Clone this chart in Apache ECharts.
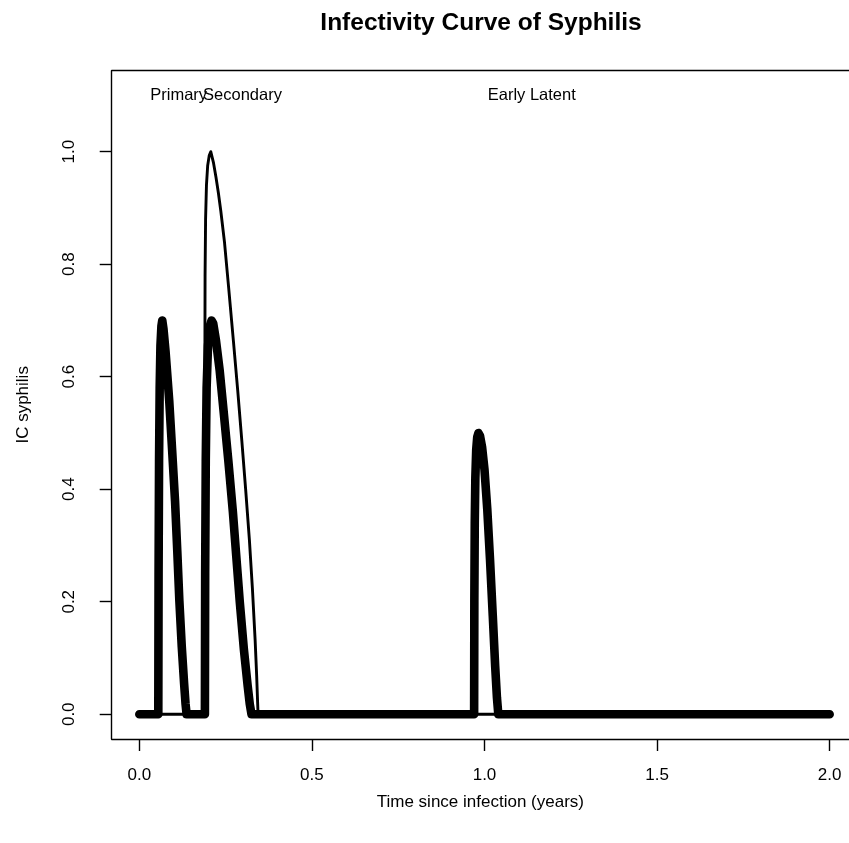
<!DOCTYPE html>
<html>
<head>
<meta charset="utf-8">
<title>Infectivity Curve of Syphilis</title>
<script src="https://cdn.jsdelivr.net/npm/echarts@6/dist/echarts.min.js"></script>
<style>
  html, body { margin: 0; padding: 0; background: #fff; }
  #chart { width: 849px; height: 843px; }
</style>
</head>
<body>
<div id="chart"></div>
<script>
// Time since infection (years) and infectivity for the weighted curve (thick line)
const timeWeighted = [
  0, 0.055, 0.0558, 0.0572, 0.0590, 0.0612, 0.0640, 0.0665, 0.070, 0.076, 0.0867, 0.095, 0.1035, 0.110, 0.116, 0.123, 0.1297, 0.134, 0.137,
  0.190, 0.1908, 0.1925, 0.195, 0.199, 0.204, 0.2095, 0.214, 0.222, 0.233, 0.244, 0.258, 0.271, 0.281, 0.291, 0.303, 0.314, 0.320, 0.325,
  0.970, 0.9706, 0.9718, 0.9735, 0.976, 0.979, 0.9825, 0.987, 0.993, 1.000, 1.008, 1.016, 1.024, 1.031, 1.036, 1.040,
  2.0
];
const icWeighted = [
  0, 0, 0.25, 0.45, 0.58, 0.655, 0.69, 0.70, 0.685, 0.645, 0.557, 0.47, 0.379, 0.29, 0.202, 0.12, 0.055, 0.018, 0,
  0, 0.25, 0.45, 0.58, 0.655, 0.69, 0.70, 0.695, 0.665, 0.61, 0.54, 0.45, 0.36, 0.28, 0.20, 0.115, 0.05, 0.018, 0,
  0, 0.20, 0.34, 0.42, 0.47, 0.493, 0.50, 0.495, 0.475, 0.435, 0.365, 0.275, 0.175, 0.085, 0.03, 0,
  0
];

// Unweighted secondary-stage curve (thin line)
const timeSecondary = [
  0, 0.189, 0.1895, 0.1905, 0.192, 0.1945, 0.198, 0.2025, 0.207, 0.209, 0.215, 0.222, 0.229, 0.236, 0.2466,
  0.259, 0.2727, 0.285, 0.297, 0.308, 0.319, 0.3275, 0.3356, 0.340, 0.3425, 0.344, 2.0
];
const icSecondary = [
  0, 0, 0.50, 0.78, 0.88, 0.94, 0.975, 0.993, 1.0, 0.997, 0.98, 0.955, 0.927, 0.895, 0.84,
  0.757, 0.663, 0.576, 0.486, 0.40, 0.309, 0.225, 0.131, 0.068, 0.025, 0, 0
];

// Stage annotations
const stageNames = ['Primary', 'Secondary', 'Early Latent'];
const stageX = [0.114, 0.299, 1.137];
const stageY = [1.1, 1.1, 1.1];

// Axis ticks
const xTicks = [0, 0.5, 1.0, 1.5, 2.0];
const yTicks = [0, 0.2, 0.4, 0.6, 0.8, 1.0];

const FONT = 'Liberation Sans, Arial, Helvetica, sans-serif';
const pairs = (xs, ys) => xs.map((x, i) => [x, ys[i]]);
const frameLine = { show: true, onZero: false, lineStyle: { color: '#000', width: 1.4 } };

const chart = echarts.init(document.getElementById('chart'), null, { renderer: 'canvas' });

chart.setOption({
  animation: false,
  backgroundColor: '#fff',
  title: {
    text: 'Infectivity Curve of Syphilis',
    left: 476,
    textAlign: 'center',
    top: 6,
    textStyle: { fontFamily: FONT, fontSize: 24.5, fontWeight: 'bold', color: '#000' }
  },
  grid: {
    show: false,
    left: 111.7,
    top: 70.7,
    right: 0,
    height: 668.3
  },
  xAxis: [
    {
      type: 'value',
      position: 'bottom',
      min: -0.08,
      max: 2.056,
      axisLine: frameLine,
      splitLine: { show: false },
      axisTick: { show: true, length: 12, customValues: xTicks, lineStyle: { color: '#000', width: 1.4 } },
      axisLabel: {
        customValues: xTicks,
        formatter: v => v.toFixed(1),
        fontFamily: FONT, fontSize: 17, color: '#000', margin: 28
      },
      name: 'Time since infection (years)',
      nameLocation: 'middle',
      nameGap: 55,
      nameTextStyle: { fontFamily: FONT, fontSize: 17, color: '#000' }
    },
    {
      // upper edge of the plot frame
      type: 'value',
      position: 'top',
      min: -0.08,
      max: 2.056,
      axisLine: frameLine,
      axisTick: { show: false },
      axisLabel: { show: false },
      splitLine: { show: false }
    }
  ],
  yAxis: {
    type: 'value',
    min: -0.044,
    max: 1.144,
    axisLine: frameLine,
    splitLine: { show: false },
    axisTick: { show: true, length: 12, customValues: yTicks, lineStyle: { color: '#000', width: 1.4 } },
    axisLabel: {
      customValues: yTicks,
      formatter: v => v.toFixed(1),
      rotate: 90,
      fontFamily: FONT, fontSize: 17, color: '#000', margin: 34
    },
    name: 'IC syphilis',
    nameLocation: 'middle',
    nameRotate: 90,
    nameGap: 80,
    nameTextStyle: { fontFamily: FONT, fontSize: 17, color: '#000' }
  },
  series: [
    {
      name: 'Secondary (unweighted)',
      type: 'line',
      data: pairs(timeSecondary, icSecondary),
      showSymbol: false,
      symbol: 'none',
      lineStyle: { color: '#000', width: 2.9, cap: 'round', join: 'round' },
      z: 2
    },
    {
      name: 'IC syphilis',
      type: 'line',
      data: pairs(timeWeighted, icWeighted),
      showSymbol: false,
      symbol: 'none',
      lineStyle: { color: '#000', width: 8.6, cap: 'round', join: 'round' },
      z: 3
    },
    {
      name: 'Stages',
      type: 'scatter',
      data: stageNames.map((n, i) => [stageX[i], stageY[i], n]),
      symbolSize: 0,
      itemStyle: { opacity: 1 },
      label: {
        show: true,
        position: 'inside',
        formatter: p => p.data[2],
        fontFamily: FONT, fontSize: 16.5, color: '#000'
      },
      z: 4
    }
  ]
});
</script>
</body>
</html>
